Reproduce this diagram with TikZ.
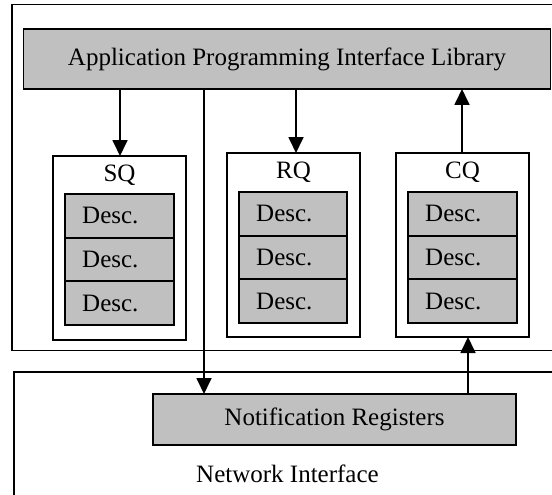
\documentclass[tikz,border=0pt]{standalone}
\usepackage{fontspec}
\setmainfont{Liberation Serif}
\usetikzlibrary{arrows.meta}
\definecolor{boxgray}{HTML}{C0C0C0}
\tikzset{
  frame/.style={draw=black, line width=1.8pt, inner sep=0pt, outer sep=0pt, rectangle},
  graybox/.style={frame, fill=boxgray},
  queue/.style={frame, fill=white, minimum width=133pt, minimum height=184pt},
  desc/.style={graybox, minimum width=109pt, minimum height=43.6pt},
  desctext/.style={anchor=west, inner sep=0pt},
  lbl/.style={inner sep=0pt},
  arr/.style={line width=1.8pt, -{Triangle[width=15pt,length=16pt]}},
  conn/.style={line width=1.8pt}
}
\begin{document}
\begin{tikzpicture}[x=1pt,y=-1pt, font=\fontsize{25}{30}\selectfont]
\useasboundingbox (0,0) rectangle (552,495);
\clip (0,0) rectangle (552,495);
% outer frames
\node[frame, minimum width=600pt, minimum height=346pt] (host) at (312,177.5) {};
\node[frame, minimum width=600pt, minimum height=200pt] (ni) at (314.3,472.3) {};
% API
\node[graybox, minimum width=527pt, minimum height=60pt] (api) at (287,59) {};
\node[lbl] (apit) at (287,59) {Application Programming Interface Library};
% queues
\node[queue] (sq) at (119.5,248) {};
\node[queue] (rq) at (293.5,245) {};
\node[queue] (cq) at (462.5,245) {};
\node[lbl] (sqt) at (119.5,175) {SQ};
\node[lbl] (rqt) at (293.5,172) {RQ};
\node[lbl] (cqt) at (462.5,172) {CQ};
% SQ descriptors
\node[desc] (sq1) at (119.5,215.8) {};
\node[desc] (sq2) at (119.5,259.4) {};
\node[desc] (sq3) at (119.5,303.0) {};
% RQ descriptors
\node[desc, minimum width=108pt] (rq1) at (293,213.8) {};
\node[desc, minimum width=108pt] (rq2) at (293,257.4) {};
\node[desc, minimum width=108pt] (rq3) at (293,301.0) {};
% CQ descriptors
\node[desc] (cq1) at (462.5,213.8) {};
\node[desc] (cq2) at (462.5,257.4) {};
\node[desc] (cq3) at (462.5,301.0) {};
\foreach \n in {sq1,sq2,sq3,rq1,rq2,rq3,cq1,cq2,cq3}{
  \node[desctext] (\n t) at ([xshift=17pt]\n.west) {Desc.};
}
% notification registers
\node[graybox, minimum width=363pt, minimum height=51pt] (nr) at (334.5,419.5) {};
\node[lbl] (nrt) at (334.5,419.5) {Notification Registers};
\node[desctext] (nit) at (196,474) {Network Interface};
% connector columns
\coordinate (c1) at (120,0);
\coordinate (c2) at (204,0);
\coordinate (c3) at (296,0);
\coordinate (c4) at (462,0);
\coordinate (c5) at (468,0);
% connectors
\draw[arr] (api.south -| c1) -- (sq.north -| c1);
\draw[arr] (api.south -| c2) -- (nr.north -| c2);
\draw[arr] (api.south -| c3) -- (rq.north -| c3);
\draw[arr] (cq.north -| c4) -- (api.south -| c4);
\draw[arr] (nr.north -| c5) -- (cq.south -| c5);
\end{tikzpicture}
\end{document}
